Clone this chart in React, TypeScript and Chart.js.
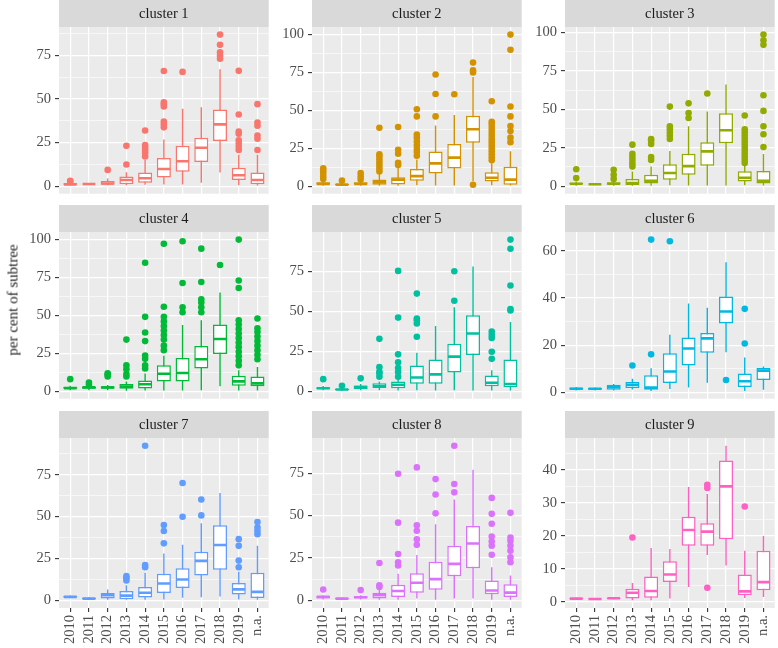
import React, { useEffect, useRef } from 'react';
import { Chart, registerables } from 'chart.js';

Chart.register(...registerables);

// ---------- data ----------
const categories = ['2010', '2011', '2012', '2013', '2014', '2015', '2016', '2017', '2018', '2019', 'n.a.'];
const clusterNames = ['cluster 1', 'cluster 2', 'cluster 3', 'cluster 4', 'cluster 5', 'cluster 6', 'cluster 7', 'cluster 8', 'cluster 9'];
const colours = ['#F8766D', '#D39200', '#93AA00', '#00BA38', '#00C19F', '#00B9E3', '#619CFF', '#DB72FB', '#FF61C3'];

// lower whisker end, per cluster, per year
const lowerWhisker = [
  [0.3, 1.0, 0.5, 0.5, 0.8, 1.0, 1.0, 2.0, 7.8, 0.5, 0.0],
  [0.3, 0.3, 0.3, 0.3, 0.3, 0.5, 0.0, 0.0, 3.2, 0.5, 0.0],
  [0.3, 0.8, 0.3, 0.2, 0.3, 0.5, 0.0, 0.0, 0.0, 0.5, 0.0],
  [0.5, 0.5, 0.5, 0.3, 0.0, 0.0, 0.0, 0.5, 3.2, 0.0, 0.0],
  [0.5, 0.3, 0.5, 0.5, 0.0, 0.5, 0.0, 0.5, 0.0, 0.0, 0.0],
  [0.8, 0.8, 0.8, 1.2, 0.5, 1.4, 2.0, 4.1, 17.0, 0.5, 1.1],
  [1.2, 0.4, 0.0, 0.0, 0.3, 0.5, 1.5, 1.8, 2.2, 0.5, 0.0],
  [0.5, 0.3, 0.5, 0.3, 0.0, 1.0, 0.0, 1.0, 1.0, 0.0, 0.0],
  [0.7, 0.6, 0.8, 0.5, 0.5, 1.0, 4.5, 14.2, 11.0, 1.2, 1.5],
];
const quartile1 = [
  [0.8, 1.1, 0.8, 1.1, 1.9, 5.0, 8.3, 13.9, 25.9, 3.5, 1.1],
  [0.9, 0.8, 0.9, 0.9, 1.1, 3.6, 8.4, 11.6, 28.7, 3.0, 0.9],
  [1.0, 1.0, 0.9, 0.8, 1.7, 4.2, 7.4, 13.3, 27.9, 3.0, 1.7],
  [1.5, 1.5, 1.5, 1.5, 1.7, 6.4, 6.4, 14.9, 24.5, 3.6, 3.2],
  [1.2, 0.7, 1.2, 2.0, 1.8, 4.6, 4.6, 11.7, 22.6, 3.0, 2.4],
  [1.1, 1.1, 1.1, 1.8, 1.1, 3.9, 11.4, 16.8, 29.2, 2.3, 5.2],
  [1.5, 0.7, 1.0, 0.6, 1.6, 4.3, 7.3, 14.8, 18.3, 3.4, 1.4],
  [1.0, 0.6, 1.0, 1.0, 2.0, 4.5, 6.2, 14.2, 18.9, 3.5, 2.0],
  [0.8, 0.7, 0.9, 1.0, 1.3, 6.0, 17.0, 17.0, 19.0, 2.0, 3.5],
];
const medians = [
  [1.0, 1.2, 1.5, 3.5, 4.5, 9.8, 14.3, 22.0, 35.4, 6.2, 3.5],
  [1.5, 1.0, 1.5, 2.5, 4.3, 6.6, 15.0, 18.8, 37.5, 5.5, 4.3],
  [1.5, 1.2, 1.5, 2.0, 3.5, 8.5, 13.0, 22.6, 36.4, 5.5, 3.5],
  [2.0, 2.5, 2.5, 3.0, 4.5, 11.5, 12.0, 21.0, 34.4, 6.4, 5.1],
  [1.8, 1.0, 2.5, 3.0, 4.0, 8.5, 10.5, 21.6, 36.0, 5.2, 4.5],
  [1.5, 1.5, 2.2, 3.2, 2.0, 8.8, 18.6, 22.9, 34.3, 4.7, 9.2],
  [2.0, 1.0, 3.0, 2.8, 4.5, 10.0, 12.4, 23.5, 33.0, 6.5, 5.0],
  [2.0, 1.0, 1.8, 3.0, 5.5, 10.3, 12.5, 21.5, 33.5, 5.8, 4.5],
  [1.0, 0.9, 1.1, 2.8, 3.3, 8.3, 21.8, 21.3, 35.0, 3.2, 6.0],
];
const quartile3 = [
  [1.6, 1.4, 3.0, 5.5, 7.8, 16.1, 23.1, 27.8, 43.9, 10.6, 7.8],
  [2.6, 1.4, 2.6, 4.3, 5.8, 11.3, 22.9, 27.8, 46.5, 9.2, 12.8],
  [2.2, 1.5, 2.6, 4.7, 7.4, 14.2, 21.1, 28.5, 47.4, 9.7, 9.9],
  [2.8, 3.0, 3.2, 4.7, 7.0, 17.0, 21.9, 29.8, 44.0, 10.2, 9.6],
  [2.5, 1.5, 3.5, 5.0, 6.0, 16.1, 19.8, 29.6, 47.4, 9.7, 19.8],
  [2.0, 1.8, 3.2, 4.4, 7.2, 16.6, 23.2, 25.2, 40.7, 8.0, 10.3],
  [2.5, 1.5, 4.3, 5.5, 7.9, 15.8, 19.1, 29.0, 44.8, 10.3, 16.4],
  [2.5, 1.3, 2.5, 4.5, 9.2, 16.0, 22.8, 32.2, 43.9, 11.7, 9.4],
  [1.2, 1.1, 1.3, 4.0, 7.7, 12.3, 25.8, 23.8, 42.8, 8.3, 15.5],
];
const upperWhisker = [
  [2.0, 1.5, 4.4, 8.0, 15.0, 26.7, 44.3, 45.2, 67.0, 18.0, 18.0],
  [3.8, 2.0, 3.8, 8.0, 12.0, 17.6, 40.0, 47.0, 72.0, 15.0, 23.0],
  [3.0, 1.8, 3.8, 9.5, 12.7, 22.8, 39.0, 48.6, 66.2, 14.0, 21.0],
  [3.5, 3.5, 4.0, 6.4, 11.7, 23.4, 43.6, 46.8, 65.0, 13.8, 16.0],
  [3.2, 2.0, 4.5, 6.0, 7.5, 24.0, 40.7, 52.4, 78.0, 13.1, 43.3],
  [2.3, 2.0, 3.5, 5.7, 10.2, 24.4, 37.7, 35.9, 55.2, 14.8, 10.9],
  [2.8, 1.8, 6.5, 9.0, 16.4, 28.0, 33.1, 46.0, 64.0, 17.0, 32.5],
  [3.0, 1.6, 3.0, 6.8, 15.6, 26.7, 44.8, 59.5, 77.0, 19.5, 14.6],
  [1.3, 1.2, 1.4, 5.7, 16.3, 16.0, 34.8, 32.7, 47.3, 15.5, 20.0],
];
const outliers = [
  [[2.6, 3.1], [], [9.3], [12.4, 23.1], [17, 19, 20.5, 22, 23.5, 31.9], [33.7, 35.5, 37, 45.7, 47, 48, 66], [65.5], [], [73, 74.8, 76.7, 81, 86.9], [20.7, 22.6, 24.4, 26.3, 30, 31.3, 41.1, 66.1], [20.7, 27.2, 29, 34.6, 36.5, 47]],
  [[4.7, 6.4, 8.6, 10.2, 11.8], [3.6], [4.3, 6.4, 8.6], [9.6, 11.5, 13.5, 15.5, 17.5, 19.5, 21, 38.5], [13.9, 15.4, 21.4, 24, 39], [20, 22.5, 24.5, 27, 29.5, 32, 34, 46, 50.7], [46, 60.8, 73.7], [60.6], [0.9, 75, 76.5, 81.5], [17, 19, 21, 23, 25, 27, 29, 31, 33, 35, 37, 39, 41, 42.5, 56], [29, 32, 36.4, 39.6, 46, 52.5, 90, 100]],
  [[5.3, 11], [], [4.7, 7.4, 10.6], [12.7, 14.8, 17, 19, 21, 27], [17, 19, 27.5, 29.6, 30.7], [30.7, 32.8, 34.9, 37, 39, 51.8], [44.4, 47.6, 53.9], [60.3], [], [15, 17, 19, 21, 23, 25, 27, 29, 31, 33, 35, 37, 46], [25.4, 33.8, 39, 49, 59.2, 92, 95, 98.7]],
  [[7.9], [4.2, 5.7], [9.6, 11, 11.7], [9.6, 11.3, 14.5, 17, 34], [15, 17, 21.3, 23.4, 33, 38.7, 49, 84.7], [27, 30, 34, 37, 40, 43, 46, 49, 55.7, 97.2], [52, 55.3, 71.3, 98.9], [52, 55.3, 58.5, 60.6, 72, 94], [83.2], [17, 20, 23, 26, 29, 32, 35, 38, 41, 44, 46.8, 68, 73, 100], [21, 24, 27, 30, 33, 36, 39, 41.5, 47.9]],
  [[7.5], [3.4], [8], [9, 11, 12.1, 15, 32.7], [9, 12, 14.5, 18, 23, 46, 75.2], [34, 42.3, 44.4, 45.4, 61], [], [56.5, 75], [], [20.2, 24.6, 33.3, 35.3, 37.3], [50.4, 51.4, 66.1, 89.1, 94.8]],
  [[], [], [], [11.4], [16.1, 64.8], [64.1], [], [], [5.2], [20.7, 35.4], []],
  [[], [], [], [11.8, 13.2, 14.4], [19.7, 21.1, 92.3], [34, 41.4, 45], [49.9, 70], [50.7, 60.2], [], [19.7, 23.7, 32.5, 36.5], [39.4, 41.4, 43.4, 46.7]],
  [[6.4], [], [6], [7.8, 8.8, 22], [20.5, 22.4, 27.3, 45.8, 74.7], [32.7, 36, 41, 44.2, 78.4], [51.3, 62.4, 71.5], [63.7, 68.6, 91.2], [], [26.9, 32.2, 34.7, 37.6, 45.2, 51, 60.4], [22.4, 25.3, 29.2, 32.2, 35, 37, 51.6]],
  [[], [], [], [19.5], [], [], [], [4.3, 34.5, 35.5], [], [28.9], []],
];
const yTickLabels = [
  [0, 25, 50, 75],
  [0, 25, 50, 75, 100],
  [0, 25, 50, 75, 100],
  [0, 25, 50, 75, 100],
  [0, 25, 50, 75],
  [0, 20, 40, 60],
  [0, 25, 50, 75],
  [0, 25, 50, 75],
  [0, 10, 20, 30, 40],
];
const yAxisTitle = 'per cent of subtree';

// ---------- layout / style ----------
const FONT = '"Liberation Serif", "DejaVu Serif", serif';
const COL_LEFT = [59, 312, 565];
const ROW_TOP = [0, 205, 411];
const PANEL_W = 213;
const PANEL_H = 170;
const STRIP_H = 27;
const AXIS_W = 40;
const XAXIS_H = 40;

function Panel({ idx }: { idx: number }) {
  const ref = useRef<HTMLCanvasElement | null>(null);
  const row = Math.floor(idx / 3);
  const col = idx % 3;
  const bottom = row === 2;
  const w = PANEL_W + AXIS_W;
  const h = STRIP_H + PANEL_H + (bottom ? XAXIS_H : 0);

  useEffect(() => {
    const canvas = ref.current;
    if (!canvas) return;
    const colour = colours[idx];
    const lo = lowerWhisker[idx], q1 = quartile1[idx], md = medians[idx], q3 = quartile3[idx], hi = upperWhisker[idx], out = outliers[idx];

    const allVals: number[] = [...lo, ...hi];
    out.forEach((o) => allVals.push(...o));
    const dMin = Math.min(...allVals);
    const dMax = Math.max(...allVals);
    const pad = (dMax - dMin) * 0.05;
    const yMin = dMin - pad;
    const yMax = dMax + pad;

    const majors = yTickLabels[idx];
    const step = majors[1] - majors[0];
    const minors: number[] = [];
    for (let v = majors[0] - step / 2; v <= majors[majors.length - 1] + step; v += step) minors.push(v);
    const allTicks = [...majors, ...minors].filter((v) => v >= yMin && v <= yMax).sort((a, b) => a - b);
    const isMajor = (v: number) => majors.some((m) => Math.abs(m - v) < 1e-9);

    const outlierPts: { x: number; y: number }[] = [];
    out.forEach((o, j) => o.forEach((v) => outlierPts.push({ x: j + 1, y: v })));

    const decoPlugin = {
      id: 'facetDeco',
      beforeDraw(chart: any) {
        const { ctx, chartArea: a } = chart;
        ctx.save();
        ctx.fillStyle = '#EBEBEB';
        ctx.fillRect(a.left, a.top, a.right - a.left, a.bottom - a.top);
        ctx.fillStyle = '#D9D9D9';
        ctx.fillRect(a.left, a.top - STRIP_H, a.right - a.left, STRIP_H);
        ctx.fillStyle = '#1A1A1A';
        ctx.font = `14.5px ${FONT}`;
        ctx.textAlign = 'center';
        ctx.textBaseline = 'middle';
        ctx.fillText(clusterNames[idx], (a.left + a.right) / 2, a.top - STRIP_H / 2 + 0.5);
        ctx.restore();
      },
      afterDatasetsDraw(chart: any) {
        const { ctx, chartArea: a, scales } = chart;
        const xs = scales.x, ys = scales.y;
        const cat = xs.getPixelForValue(2) - xs.getPixelForValue(1);
        const half = (cat * 0.75) / 2;
        ctx.save();
        ctx.beginPath();
        ctx.rect(a.left, a.top, a.right - a.left, a.bottom - a.top);
        ctx.clip();
        ctx.strokeStyle = colour;
        ctx.lineWidth = 2.6;
        md.forEach((m, j) => {
          const cx = xs.getPixelForValue(j + 1);
          const y = ys.getPixelForValue(m);
          ctx.beginPath();
          ctx.moveTo(cx - half + 0.7, y);
          ctx.lineTo(cx + half - 0.7, y);
          ctx.stroke();
        });
        ctx.restore();
      },
    };

    const chart = new Chart(canvas, {
      type: 'bar',
      data: {
        datasets: [
          {
            type: 'line',
            data: outlierPts,
            showLine: false,
            pointRadius: 3.3,
            pointHoverRadius: 3.3,
            pointBackgroundColor: colour,
            pointBorderWidth: 0,
            borderColor: colour,
            order: 3,
          } as any,
          {
            type: 'bar',
            data: lo.map((v, j) => ({ x: j + 1, y: [v, hi[j]] })),
            backgroundColor: colour,
            borderWidth: 0,
            grouped: false,
            categoryPercentage: 1,
            barPercentage: 0.75,
            maxBarThickness: 1.4,
            order: 2,
          } as any,
          {
            type: 'bar',
            data: q1.map((v, j) => ({ x: j + 1, y: [v, q3[j]] })),
            backgroundColor: '#FFFFFF',
            borderColor: colour,
            borderWidth: 1.5,
            borderSkipped: false,
            grouped: false,
            categoryPercentage: 1,
            barPercentage: 0.75,
            order: 1,
          } as any,
        ],
      },
      options: {
        responsive: false,
        animation: false,
        devicePixelRatio: 1,
        events: [],
        layout: { padding: { top: STRIP_H, left: 0, right: 0, bottom: 0 } },
        plugins: { legend: { display: false }, tooltip: { enabled: false }, title: { display: false } },
        scales: {
          x: {
            type: 'linear',
            min: 0.4,
            max: categories.length + 0.6,
            offset: false,
            afterBuildTicks: (s: any) => {
              s.ticks = categories.map((_, j) => ({ value: j + 1 }));
            },
            afterFit: (s: any) => {
              s.height = bottom ? XAXIS_H : 0;
              s.paddingLeft = 0;
              s.paddingRight = 0;
            },
            grid: {
              color: '#FFFFFF',
              lineWidth: 1.2,
              offset: false,
              drawTicks: bottom,
              tickLength: 4,
              tickColor: '#333333',
              tickWidth: 1.1,
            },
            border: { display: false },
            ticks: {
              display: bottom,
              autoSkip: false,
              minRotation: 90,
              maxRotation: 90,
              padding: 3,
              color: '#4D4D4D',
              font: { family: FONT, size: 14.5 },
              callback: (v: any) => categories[Math.round(Number(v)) - 1] ?? '',
            },
          },
          y: {
            type: 'linear',
            min: yMin,
            max: yMax,
            beginAtZero: false,
            afterBuildTicks: (s: any) => {
              s.ticks = allTicks.map((v) => ({ value: v }));
            },
            afterFit: (s: any) => {
              s.width = AXIS_W;
              s.paddingTop = 0;
              s.paddingBottom = 0;
            },
            grid: {
              color: '#FFFFFF',
              lineWidth: (c: any) => (c.tick && isMajor(c.tick.value) ? 1.2 : 0.6),
              tickColor: (c: any) => (c.tick && isMajor(c.tick.value) ? '#333333' : 'rgba(0,0,0,0)'),
              tickLength: 4,
              tickWidth: 1.1,
              drawTicks: true,
            },
            border: { display: false },
            ticks: {
              padding: 4,
              autoSkip: false,
              color: '#4D4D4D',
              font: { family: FONT, size: 14.5 },
              callback: (v: any) => (isMajor(Number(v)) ? String(Math.round(Number(v))) : ''),
            },
          },
        },
      } as any,
      plugins: [decoPlugin],
    });
    return () => chart.destroy();
  }, [idx, bottom]);

  return (
    <canvas
      ref={ref}
      width={w}
      height={h}
      style={{ position: 'absolute', left: COL_LEFT[col] - AXIS_W, top: ROW_TOP[row], width: w, height: h, display: 'block' }}
    />
  );
}

export default function App() {
  return (
    <div style={{ position: 'fixed', left: 0, top: 0, width: 778, height: 648, background: '#FFFFFF', overflow: 'hidden' }}>
      {clusterNames.map((_, i) => (
        <Panel key={i} idx={i} />
      ))}
      <div
        style={{
          position: 'absolute',
          left: 13,
          top: 300,
          transform: 'translate(-50%, -50%) rotate(-90deg)',
          whiteSpace: 'nowrap',
          fontFamily: FONT,
          fontSize: 15,
          fontWeight: 400,
          color: '#1A1A1A',
          lineHeight: 1,
        }}
      >
        {yAxisTitle}
      </div>
    </div>
  );
}
